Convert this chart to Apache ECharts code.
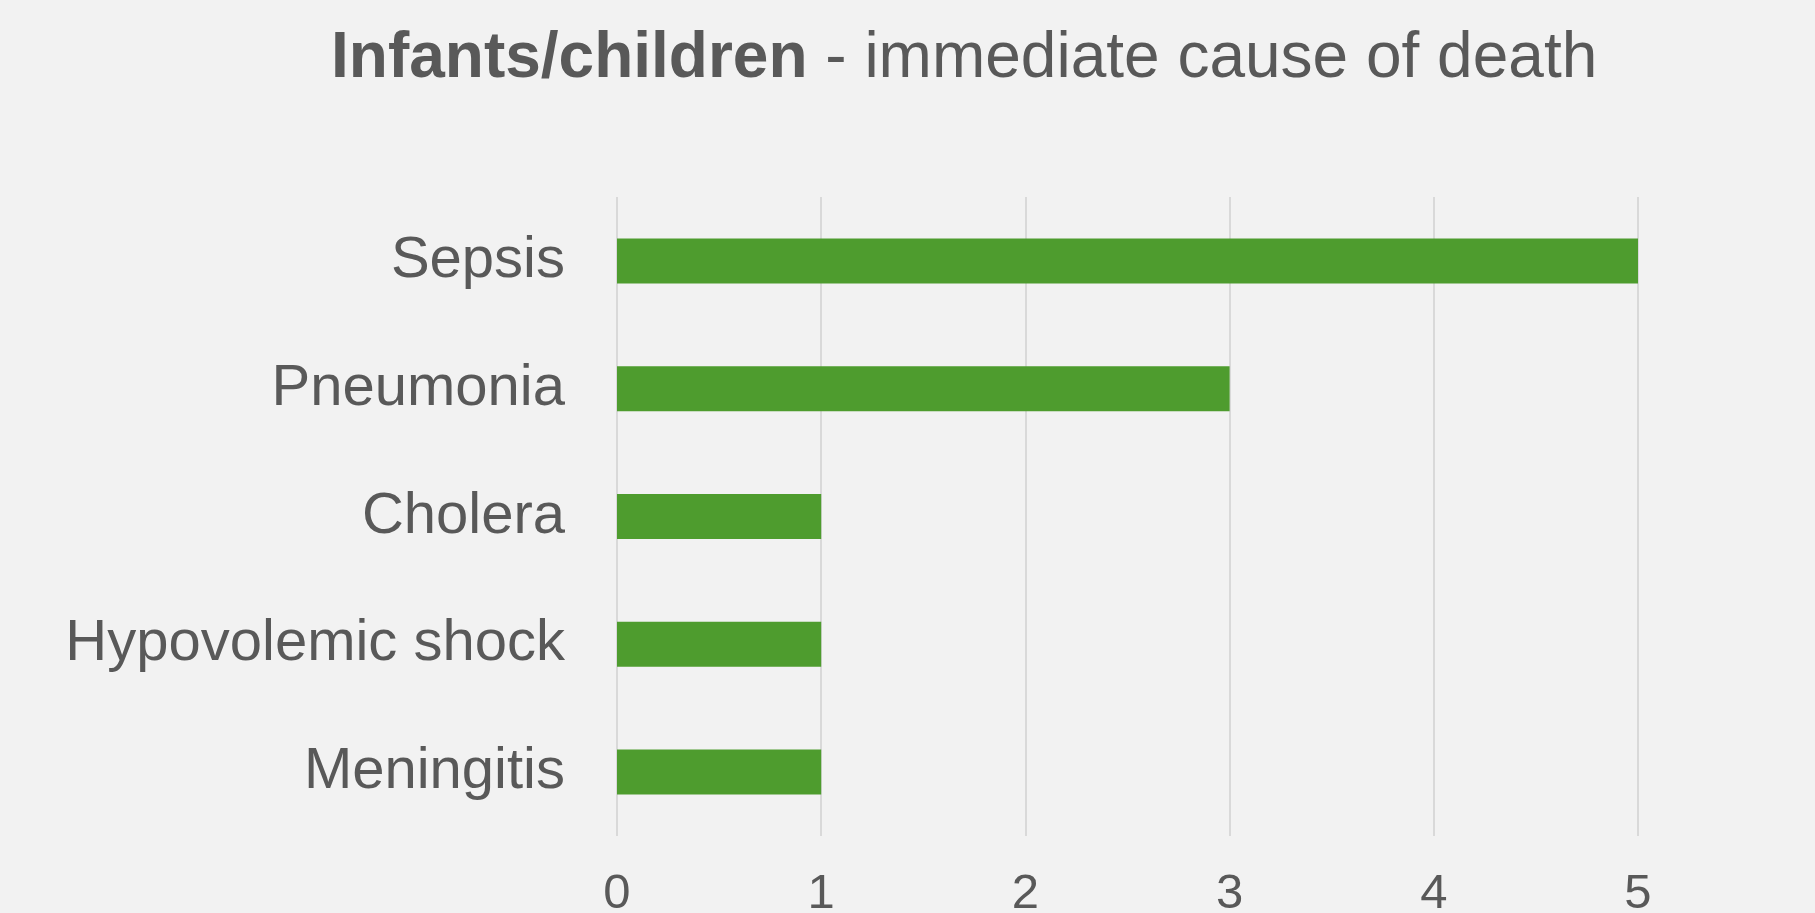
<!DOCTYPE html>
<html>
<head>
    <meta charset="UTF-8"/>
    <script type="text/javascript" src="https://cdn.jsdelivr.net/npm/echarts@6/dist/echarts.min.js"></script>
    <title>Infants/children - immediate cause of death</title>
    <style>
        html, body { margin: 0; padding: 0; background: #f2f2f2; }
        #barChart { width: 1815px; height: 913px; }
    </style>
</head>
<body>
<div id="barChart"></div>

<script type="application/javascript">
    // data (top to bottom)
    var causeList = ['Sepsis', 'Pneumonia', 'Cholera', 'Hypovolemic shock', 'Meningitis'];
    var countList = [5, 3, 1, 1, 1];
    var tickMin = 0;
    var tickMax = 5;
    var tickStep = 1;

    function initBarOne(causes, counts) {
        var myChart = echarts.init(document.getElementById('barChart'));
        var option = {
            backgroundColor: '#f2f2f2',
            animation: false,
            title: {
                text: '{b|Infants/children}{r| - immediate cause of death}',
                left: 326,
                top: 22,
                textStyle: {
                    rich: {
                        b: { fontFamily: 'Liberation Sans', fontSize: 64, fontWeight: 'bold', color: '#595959' },
                        r: { fontFamily: 'Liberation Sans', fontSize: 64, fontWeight: 'normal', color: '#595959' }
                    }
                }
            },
            grid: {
                left: 617,
                right: 177,
                top: 197,
                bottom: 77,
                outerBoundsMode: 'none'
            },
            xAxis: {
                type: 'value',
                min: tickMin,
                max: tickMax,
                interval: tickStep,
                axisLine: { show: false },
                axisTick: { show: false },
                splitLine: { lineStyle: { color: '#d9d9d9', width: 2 } },
                axisLabel: {
                    margin: 34,
                    fontFamily: 'Liberation Sans',
                    fontSize: 49,
                    color: '#595959'
                }
            },
            yAxis: {
                type: 'category',
                inverse: true,
                data: causes,
                axisLine: { show: false },
                axisTick: { show: false },
                axisLabel: {
                    margin: 52,
                    fontFamily: 'Liberation Sans',
                    fontSize: 58,
                    color: '#595959'
                }
            },
            series: [
                {
                    type: 'bar',
                    data: counts,
                    barWidth: 45,
                    itemStyle: { color: '#4e9c2e' }
                }
            ]
        };
        myChart.setOption(option);
    }

    initBarOne(causeList, countList);
</script>
</body>
</html>
